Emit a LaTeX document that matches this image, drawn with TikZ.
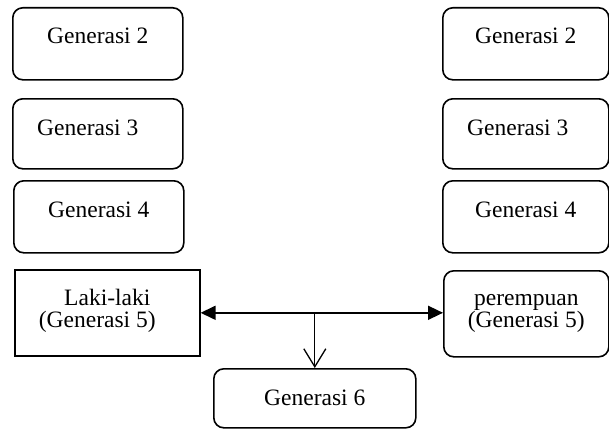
\documentclass[tikz,border=0pt]{standalone}
\usepackage{fontspec}
\setmainfont{Liberation Serif}
\usetikzlibrary{arrows.meta, positioning}

\begin{document}
\begin{tikzpicture}[
        x=1pt, y=-1pt,
        box/.style={draw, line width=1.6pt, inner sep=0pt, anchor=north west, align=center,
            font=\fontsize{23.5}{22}\selectfont},
        genbox/.style={box, rounded corners=10pt},
        arrow/.style={{Triangle[length=15pt, width=14pt]}-{Triangle[length=15pt, width=14pt]}, line width=1.6pt},
        down/.style={-{Straight Barb[length=18pt, width=22pt]}, line width=1.3pt}
    ]

    \useasboundingbox (0,0) rectangle (609,428);

    \node (l2) [genbox, minimum width=170pt, text height=36pt, text depth=36pt] at (12,7) {Generasi 2};
    \node (l3) [genbox, minimum width=170pt, text height=37pt, text depth=33pt] at (12,98) {Generasi 3\hspace*{20pt}};
    \node (l4) [genbox, minimum width=170pt, text height=37pt, text depth=35pt] at (13,180) {Generasi 4};
    \node (lk) [box, minimum width=185pt, text height=58pt, text depth=28pt] at (14,269) {Laki-laki\\(Generasi 5)\hspace*{20pt}};

    \node (r2) [genbox, minimum width=166pt, text height=36pt, text depth=36pt] at (442,7) {Generasi 2};
    \node (r3) [genbox, minimum width=166pt, text height=37pt, text depth=33pt] at (442,98) {Generasi 3\hspace*{16pt}};
    \node (r4) [genbox, minimum width=166pt, text height=37pt, text depth=35pt] at (442,180) {Generasi 4};
    \node (rp) [genbox, minimum width=165pt, text height=57pt, text depth=29pt] at (443,270) {perempuan\\(Generasi 5)};

    \node (g6) [genbox, minimum width=202pt, text height=37pt, text depth=22pt] at (213,368) {Generasi 6};

    \draw [arrow] (lk.east) -- (lk.east -| rp.west);
    \draw [down] (lk.east -| g6.north) -- (g6.north);

\end{tikzpicture}
\end{document}
